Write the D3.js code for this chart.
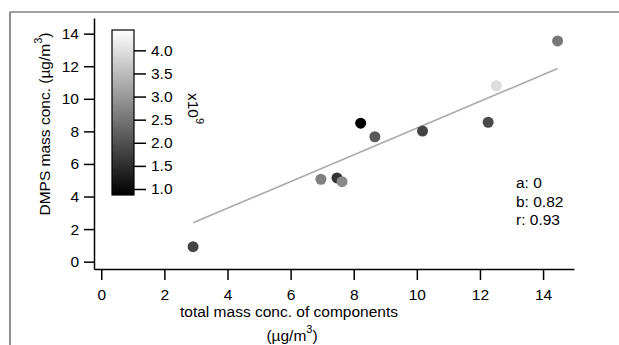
<!DOCTYPE html>
<html><head><meta charset="utf-8">
<script src="https://cdn.jsdelivr.net/npm/d3@7"></script>
<style>
body{margin:0;background:#fff;}
text{font-family:"Liberation Sans",Arial,sans-serif;}
</style></head>
<body><svg id="c" width="619" height="345"></svg>
<script>
// Data
const totalMass = [2.91, 6.96, 7.47, 7.63, 8.22, 8.67, 10.18, 12.26, 12.52, 14.46];
const dmpsMass  = [0.92, 5.06, 5.14, 4.91, 8.50, 7.67, 8.02, 8.56, 10.80, 13.55];
const colorVals = [1.82, 2.66, 1.58, 2.77, 0.88, 2.12, 1.82, 1.91, 3.96, 2.54]; // x10^9
const xTicks = [0, 2, 4, 6, 8, 10, 12, 14];
const yTicks = [0, 2, 4, 6, 8, 10, 12, 14];
const cbTicks = [1.0, 1.5, 2.0, 2.5, 3.0, 3.5, 4.0];
const fitA = 0, fitB = 0.82, fitR = 0.93;

const svg = d3.select("#c");
const FS = 15.5;

// frame lines
svg.append("line").attr("x1",10).attr("y1",12).attr("x2",619).attr("y2",12).attr("stroke","#444").attr("stroke-width",1.2);
svg.append("line").attr("x1",10).attr("y1",12).attr("x2",10).attr("y2",345).attr("stroke","#444").attr("stroke-width",1.2);

const x = d3.scaleLinear().domain([-0.23, 14.98]).range([94, 574]);
const y = d3.scaleLinear().domain([-0.45, 14.96]).range([269, 18]);
const cmin = 0.87, cmax = 4.44;
const col = d3.scaleLinear().domain([cmin, cmax]).range(["#000000", "#ffffff"]).clamp(true);

// axes
const ya = svg.append("g").attr("transform","translate(94,0)")
  .call(d3.axisLeft(y).tickValues(yTicks).tickFormat(d3.format("d")).tickSize(10).tickSizeOuter(0).tickPadding(5));
const xa = svg.append("g").attr("transform","translate(0,269)")
  .call(d3.axisBottom(x).tickValues(xTicks).tickFormat(d3.format("d")).tickSize(11).tickSizeOuter(0).tickPadding(9));
[ya, xa].forEach(g=>{
  g.attr("font-size",FS);
  g.select(".domain").attr("stroke","#000").attr("stroke-width",1.5);
  g.selectAll(".tick line").attr("stroke","#000").attr("stroke-width",1.5);
  g.selectAll(".tick text").attr("font-size",FS).attr("fill","#000");
});

// fit line
const xr = d3.extent(totalMass);
svg.append("line")
  .attr("x1", x(xr[0])).attr("y1", y(fitA + fitB*xr[0]))
  .attr("x2", x(xr[1])).attr("y2", y(fitA + fitB*xr[1]))
  .attr("stroke","#aaaaaa").attr("stroke-width",1.6);

// points
svg.append("g").selectAll("circle").data(totalMass.map((v,i)=>({x:v,y:dmpsMass[i],c:colorVals[i]})))
  .join("circle").attr("cx",d=>x(d.x)).attr("cy",d=>y(d.y)).attr("r",5.5)
  .attr("fill",d=>col(d.c));

// colorbar
const cb = d3.scaleLinear().domain([cmin, cmax]).range([195, 30]);
const defs = svg.append("defs");
const grad = defs.append("linearGradient").attr("id","g1").attr("x1",0).attr("y1",1).attr("x2",0).attr("y2",0);
grad.append("stop").attr("offset","0%").attr("stop-color","#000");
grad.append("stop").attr("offset","100%").attr("stop-color","#fff");
svg.append("rect").attr("x",112).attr("y",cb(cmax)).attr("width",22).attr("height",cb(cmin)-cb(cmax))
  .attr("fill","url(#g1)").attr("stroke","#000").attr("stroke-width",1.2);
const cba = svg.append("g").attr("transform","translate(134,0)")
  .call(d3.axisRight(cb).tickValues(cbTicks).tickFormat(d3.format(".1f")).tickSize(12).tickSizeOuter(0).tickPadding(5));
cba.attr("font-size",FS);
cba.select(".domain").remove();
cba.selectAll(".tick line").attr("stroke","#000").attr("stroke-width",1.5);
cba.selectAll(".tick text").attr("font-size",FS).attr("fill","#000");

// x10^9 label
const ex = svg.append("text").attr("transform","translate(188,93) rotate(90)").attr("font-size",FS);
ex.append("tspan").text("x10");
ex.append("tspan").attr("dy",-8).attr("font-size",11).text("9");

// y label
const yl = svg.append("text").attr("transform","translate(50,124) rotate(-90)").attr("text-anchor","middle").attr("font-size",FS);
yl.append("tspan").text("DMPS mass conc. (µg/m");
yl.append("tspan").attr("dy",-8).attr("font-size",11).text("3");
yl.append("tspan").attr("dy",8).text(")");

// x label
svg.append("text").attr("x",289).attr("y",317).attr("text-anchor","middle").attr("font-size",FS).text("total mass conc. of components");
const xl2 = svg.append("text").attr("x",292).attr("y",341).attr("text-anchor","middle").attr("font-size",FS);
xl2.append("tspan").text("(µg/m");
xl2.append("tspan").attr("dy",-8).attr("font-size",11).text("3");
xl2.append("tspan").attr("dy",8).text(")");

// stats
const stats = ["a: " + fitA, "b: " + fitB, "r: " + fitR];
svg.append("g").selectAll("text").data(stats).join("text")
  .attr("x",516).attr("y",(d,i)=>188 + i*18.5).attr("font-size",FS).text(d=>d);
</script></body></html>
